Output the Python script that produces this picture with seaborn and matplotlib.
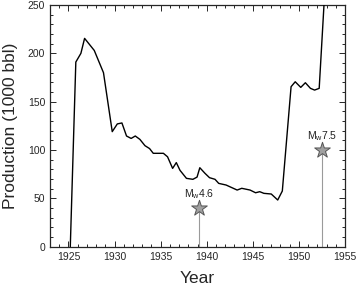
import matplotlib
matplotlib.use('Agg')
import matplotlib.pyplot as plt
import pandas as pd
import seaborn as sns
from matplotlib.ticker import MultipleLocator

# Data
years = [1925.2, 1925.8, 1926.35, 1926.75, 1927.8, 1928.8, 1929.75, 1930.3, 1930.8,
         1931.3, 1931.8, 1932.25, 1932.75, 1933.3, 1933.8, 1934.2, 1935.3, 1935.75,
         1936.3, 1936.7, 1937.1, 1937.8, 1938.5, 1938.95, 1939.25, 1939.8, 1940.3,
         1940.9, 1941.3, 1942.1, 1943.3, 1943.8, 1944.7, 1945.3, 1945.75, 1946.2,
         1947.0, 1947.7, 1948.2, 1949.15, 1949.6, 1950.2, 1950.7, 1951.25, 1951.7,
         1952.2, 1952.75]
production = [0, 191, 200, 215.5, 203, 180, 119, 127, 128,
              114.5, 112, 114.5, 111, 104.5, 101.5, 96.6, 96.6, 93,
              81, 87, 79, 70.7, 69.7, 72, 81.7, 76, 71.4,
              69.7, 65.5, 63.8, 58.6, 60.4, 58.6, 55.8, 56.9, 55.2,
              54.5, 48.3, 57.6, 165.5, 170.6, 164.8, 169.6, 163.8, 162,
              163.8, 255]

quake_years = [1939.15, 1952.55]
quake_marks = [40, 100]
quake_labels = [r'M$_\mathregular{w}$4.6', r'M$_\mathregular{w}$7.5']

df = pd.DataFrame({'Year': years, 'Production': production})
quakes = pd.DataFrame({'Year': quake_years, 'Production': quake_marks, 'Label': quake_labels})

# Plot
sns.set_style('ticks')
plt.rcParams['font.family'] = ['Liberation Sans', 'DejaVu Sans']

fig = plt.figure(figsize=(3.58, 2.86), dpi=100)
ax = fig.add_axes([0.1397, 0.1374, 0.824, 0.8451])

for _, q in quakes.iterrows():
    ax.vlines(q['Year'], 0, q['Production'], color='#9a9a9a', lw=0.8, zorder=1)

sns.lineplot(data=df, x='Year', y='Production', color='black', lw=1.0, ax=ax, zorder=3)
sns.scatterplot(data=quakes, x='Year', y='Production', marker='*', s=140,
                color='#a0a0a0', edgecolor='#555555', linewidth=0.7, ax=ax, zorder=4)

for _, q in quakes.iterrows():
    ax.text(q['Year'], q['Production'] + 7, q['Label'], ha='center', va='bottom',
            fontsize=7.5, color='#222222')

ax.set_xlim(1923, 1955)
ax.set_ylim(0, 250)
ax.xaxis.set_major_locator(MultipleLocator(5))
ax.xaxis.set_minor_locator(MultipleLocator(1))
ax.yaxis.set_major_locator(MultipleLocator(50))
ax.yaxis.set_minor_locator(MultipleLocator(10))
ax.tick_params(which='both', direction='in', top=True, right=True, labelsize=7.5, width=0.7)
ax.tick_params(which='major', length=4)
ax.tick_params(which='minor', length=2.5)
for s in ax.spines.values():
    s.set_linewidth(0.9)

ax.set_xlabel('Year', fontsize=12.5, labelpad=7)
ax.set_ylabel('Production (1000 bbl)', fontsize=12.5, labelpad=7)

plt.savefig('out.png', dpi=100)
